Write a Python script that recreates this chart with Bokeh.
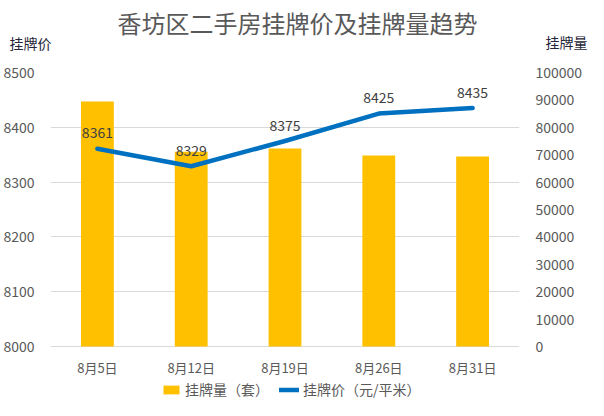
from bokeh.plotting import figure
from bokeh.models import (ColumnDataSource, FactorRange, Range1d, LinearAxis,
                          FixedTicker, Legend, LegendItem, BasicTickFormatter, Title)
from bokeh.core.properties import value
from bokeh.embed import file_html
from bokeh.resources import INLINE

FONT = "Noto Sans CJK SC"

# 数据
dates = ["8月5日", "8月12日", "8月19日", "8月26日", "8月31日"]
counts = [89400, 71100, 72300, 69700, 69300]   # 挂牌量（套）
prices = [8361, 8329, 8375, 8425, 8435]         # 挂牌价（元/平米）
price_ticks = [8000, 8100, 8200, 8300, 8400, 8500]
count_ticks = [0, 10000, 20000, 30000, 40000, 50000, 60000, 70000, 80000, 90000, 100000]

source = ColumnDataSource(data={
    'date': dates,
    'count': counts,
    'price': prices,
    'price_label': [str(v) for v in prices],
    'base': [price_ticks[0]] * len(dates),
})

# 绘图区向下延伸到画布底部，把分类标签和图例放进绘图区
H, TOP, AXIS_H, BELOW = 400, 72, 274, 54
pad = BELOW / AXIS_H
price_lo, price_hi = price_ticks[0], price_ticks[-1]
count_lo, count_hi = count_ticks[0], count_ticks[-1]

p = figure(
    width=588, height=H,
    title=None,
    x_range=FactorRange(*dates),
    y_range=Range1d(price_lo - pad * (price_hi - price_lo), price_hi),
    x_axis_location=None,
    output_backend="svg",
    toolbar_location=None,
    min_border_left=42, min_border_right=69,
    min_border_top=TOP, min_border_bottom=0,
)
p.extra_y_ranges = {"count": Range1d(count_lo - pad * (count_hi - count_lo), count_hi)}
p.outline_line_color = None

# 网格
p.xgrid.grid_line_color = None
p.ygrid.grid_line_color = "#D9D9D9"
p.ygrid.grid_line_width = 1
p.ygrid.ticker = FixedTicker(ticks=price_ticks)

# 左轴（挂牌价）
p.yaxis.ticker = FixedTicker(ticks=price_ticks)
# 右轴（挂牌量）
right_axis = LinearAxis(y_range_name="count", ticker=FixedTicker(ticks=count_ticks),
                        formatter=BasicTickFormatter(use_scientific=False))
p.add_layout(right_axis, "right")

for ax in [p.yaxis[0], right_axis]:
    ax.axis_line_color = None
    ax.major_tick_line_color = None
    ax.minor_tick_line_color = None
    ax.major_label_text_color = "#595959"
    ax.major_label_text_font = FONT
    ax.major_label_text_font_size = "14px"
    ax.major_label_standoff = 10

# 柱状图：挂牌量
bars = p.vbar(x='date', top='count', bottom=0, width=0.35, source=source,
              y_range_name="count", fill_color="#FFC000", line_color=None)

# 折线：挂牌价
line = p.line('date', 'price', source=source, line_width=4.5, color="#0070C0",
              line_cap="round", line_join="round")

# 数据标签
p.text(x='date', y='price', text='price_label', source=source, y_offset=-16,
       text_align="center", text_baseline="middle", text_color="#404040",
       text_font=value(FONT), text_font_size="14px")

# 分类标签（日期）
p.text(x='date', y='base', text='date', source=source, y_offset=21,
       text_align="center", text_baseline="middle", text_color="#595959",
       text_font=value(FONT), text_font_size="13px")

# 标题与轴标题（上方面板；两个轴标题的行高压成 0，放在同一行）
spacer = Title(text=" ", standoff=7, text_font=FONT, text_font_size="14px")
t_left = Title(text="挂牌价", align="left", offset=-41, vertical_align="middle",
               standoff=-21, text_font=FONT, text_font_size="14px",
               text_font_style="normal", text_color="#262638")
t_right = Title(text="挂牌量", align="right", offset=-68, vertical_align="middle",
                standoff=-21, text_font=FONT, text_font_size="14px",
                text_font_style="normal", text_color="#262638")
t_main = Title(text="香坊区二手房挂牌价及挂牌量趋势", align="left", offset=67,
               vertical_align="middle", standoff=2, text_font=FONT,
               text_font_size="24px", text_font_style="normal", text_color="#595959")
p.add_layout(spacer, "above")
p.add_layout(t_left, "above")
p.add_layout(t_right, "above")
p.add_layout(t_main, "above")

# 图例（绘图区底部）
legend = Legend(items=[
    LegendItem(label="挂牌量（套）", renderers=[bars]),
    LegendItem(label="挂牌价（元/平米）", renderers=[line]),
], orientation="horizontal", location=(111, 1))
legend.label_text_font = FONT
legend.label_text_font_size = "14px"
legend.label_text_color = "#595959"
legend.glyph_width = 20
legend.glyph_height = 11
legend.label_height = 14
legend.label_standoff = 4
legend.spacing = 10
legend.padding = 0
legend.margin = 0
legend.border_line_color = None
legend.background_fill_alpha = 0
p.add_layout(legend)

open("out.html", "w").write(file_html(p, INLINE))
